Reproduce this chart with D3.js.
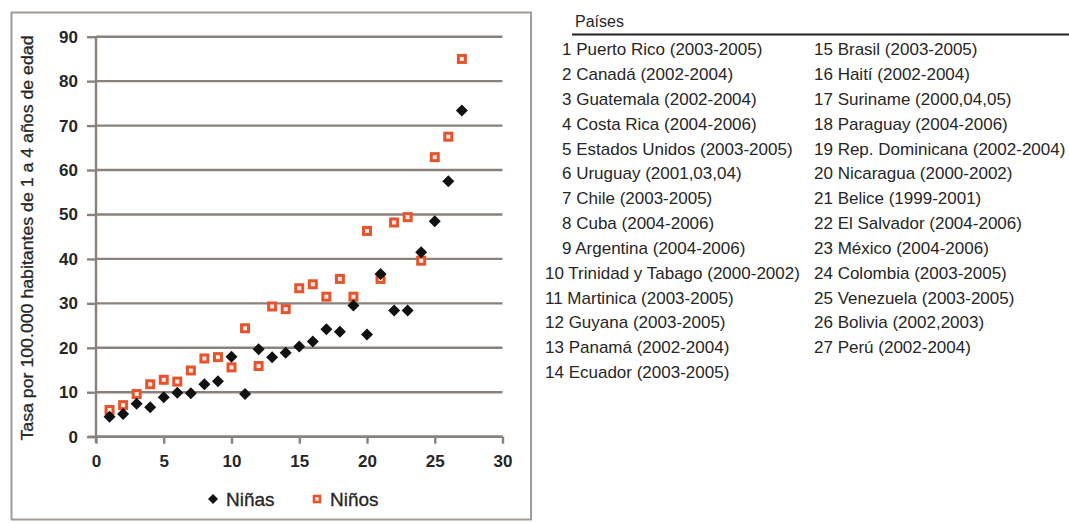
<!DOCTYPE html>
<html><head><meta charset="utf-8">
<script src="https://cdn.jsdelivr.net/npm/d3@7"></script>
<style>
html,body{margin:0;padding:0;background:#fff;}
svg{display:block;font-family:"Liberation Sans",Arial,sans-serif;}
</style></head>
<body>
<svg id="chart" width="1069" height="523"></svg>
<script>
// ---- data ----
const countryIdx = d3.range(1, 28);
const ninas = [4.5,5.1,7.4,6.6,8.9,9.9,9.8,11.8,12.5,18.0,9.6,19.7,17.9,18.9,20.3,21.4,24.2,23.6,29.5,23.0,36.6,28.4,28.4,41.5,48.5,57.5,73.4];
const ninos = [6.0,7.1,9.6,11.8,12.8,12.4,14.9,17.6,17.9,15.6,24.4,15.9,29.3,28.7,33.4,34.3,31.5,35.5,31.5,46.3,35.5,48.2,49.4,39.6,62.9,67.5,85.0];
const xTicks = [0,5,10,15,20,25,30];
const yTicks = [0,10,20,30,40,50,60,70,80,90];
const yLabel = "Tasa por 100.000 habitantes de 1 a 4 años de edad";
const seriesNames = ["Niñas","Niños"];
const tableTitle = "Países";
const countries = ["Puerto Rico (2003-2005)","Canadá (2002-2004)","Guatemala (2002-2004)","Costa Rica (2004-2006)","Estados Unidos (2003-2005)","Uruguay (2001,03,04)","Chile (2003-2005)","Cuba (2004-2006)","Argentina (2004-2006)","Trinidad y Tabago (2000-2002)","Martinica (2003-2005)","Guyana (2003-2005)","Panamá (2002-2004)","Ecuador (2003-2005)","Brasil (2003-2005)","Haití (2002-2004)","Suriname (2000,04,05)","Paraguay (2004-2006)","Rep. Dominicana (2002-2004)","Nicaragua (2000-2002)","Belice (1999-2001)","El Salvador (2004-2006)","México (2004-2006)","Colombia (2003-2005)","Venezuela (2003-2005)","Bolivia (2002,2003)","Perú (2002-2004)"];

// ---- drawing ----
const svg = d3.select("#chart");
const gridCol = "#8a817b", orange = "#e5542c", txt = "#262626";

svg.append("rect").attr("x",11.5).attr("y",12.5).attr("width",519.5).attr("height",507)
  .attr("fill","#fff").attr("stroke","#a29c97").attr("stroke-width",2);

const x = d3.scaleLinear().domain([0,30]).range([96,502.5]);
const y = d3.scaleLinear().domain([0,90]).range([436.7,36.7]);

// gridlines
svg.append("g").selectAll("line").data(yTicks).join("line")
  .attr("x1",x(0)).attr("x2",x(30)).attr("y1",d=>y(d)).attr("y2",d=>y(d))
  .attr("stroke",gridCol).attr("stroke-width",2.4);

// y axis
const gy = svg.append("g").attr("transform",`translate(${x(0)},0)`)
  .call(d3.axisLeft(y).tickValues(yTicks).tickSize(9).tickPadding(9).tickFormat(d3.format("d")));
gy.select(".domain").attr("stroke",gridCol).attr("stroke-width",2.4).attr("d",`M0,${y(90)}V${y(0)+6}`);
gy.selectAll(".tick line").attr("stroke",gridCol).attr("stroke-width",2.4);
gy.selectAll(".tick text").attr("font-size",17).attr("font-weight","bold").attr("fill",txt)
  .attr("font-family","'Liberation Sans',Arial,sans-serif");

// x axis
const gx = svg.append("g").attr("transform",`translate(0,${y(0)})`)
  .call(d3.axisBottom(x).tickValues(xTicks).tickSize(7).tickPadding(11).tickFormat(d3.format("d")));
gx.select(".domain").attr("stroke",gridCol).attr("stroke-width",2.4).attr("d",`M${x(0)-8},0H${x(30)}`);
gx.selectAll(".tick line").attr("stroke",gridCol).attr("stroke-width",2.4);
gx.selectAll(".tick text").attr("font-size",17).attr("font-weight","bold").attr("fill",txt)
  .attr("font-family","'Liberation Sans',Arial,sans-serif");

// y label
svg.append("text").attr("transform","translate(33,238) rotate(-90)")
  .attr("text-anchor","middle").attr("font-size",17).attr("fill",txt)
  .attr("stroke",txt).attr("stroke-width",0.3)
  .attr("textLength",405).attr("lengthAdjust","spacingAndGlyphs")
  .text(yLabel);

// markers
const sq = 7, dm = 6;
svg.append("g").selectAll("rect").data(countryIdx).join("rect")
  .attr("x",d=>x(d)-sq/2).attr("y",(d,i)=>y(ninos[i])-sq/2).attr("width",sq).attr("height",sq)
  .attr("fill","#fde9e1").attr("stroke",orange).attr("stroke-width",3);
svg.append("g").selectAll("path").data(countryIdx).join("path")
  .attr("d",(d,i)=>{const cx=x(d), cy=y(ninas[i]);return `M${cx},${cy-dm}L${cx+dm},${cy}L${cx},${cy+dm}L${cx-dm},${cy}Z`;})
  .attr("fill","#111");

// legend
const ly = 499;
svg.append("path").attr("d",`M213,${ly-5}L218,${ly}L213,${ly+5}L208,${ly}Z`).attr("fill","#111");
svg.append("text").attr("x",226).attr("y",ly).attr("dy","0.35em").attr("font-size",19).attr("fill",txt)
  .attr("stroke",txt).attr("stroke-width",0.3).text(seriesNames[0]);
svg.append("rect").attr("x",314).attr("y",ly-3).attr("width",6).attr("height",6)
  .attr("fill","#fde9e1").attr("stroke",orange).attr("stroke-width",2.6);
svg.append("text").attr("x",330).attr("y",ly).attr("dy","0.35em").attr("font-size",19).attr("fill",txt)
  .attr("stroke",txt).attr("stroke-width",0.3).text(seriesNames[1]);

// table
svg.append("text").attr("x",575).attr("y",21).attr("dy","0.35em").attr("font-size",16).attr("fill",txt).text(tableTitle);
svg.append("line").attr("x1",572).attr("x2",1069).attr("y1",34.5).attr("y2",34.5).attr("stroke","#222").attr("stroke-width",2);
const rowY = d3.scaleLinear().domain([0,13]).range([49.5,372]);
svg.append("g").selectAll("text").data(countries).join("text")
  .attr("x",(d,i)=>{const col=i<14?0:1;const n=i+1;return col===0?(n<10?562:545):814;})
  .attr("y",(d,i)=>rowY(i<14?i:i-14)).attr("dy","0.35em")
  .attr("font-size",17).attr("fill",txt)
  .text((d,i)=>`${i+1} ${d}`);
</script>
</body></html>
